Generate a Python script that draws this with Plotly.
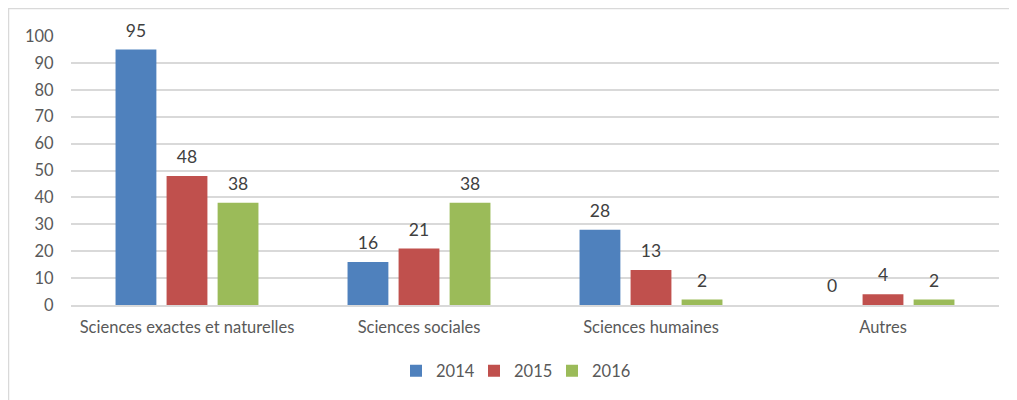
import plotly.graph_objects as go

categories = ["Sciences exactes et naturelles", "Sciences sociales", "Sciences humaines", "Autres"]
years = ["2014", "2015", "2016"]
values_2014 = [95, 16, 28, 0]
values_2015 = [48, 21, 13, 4]
values_2016 = [38, 38, 2, 2]
colors = ["#4F81BD", "#C0504D", "#9BBB59"]

FONT = "Lato"
TXT = "#595959"
FS = 16.5

series = [values_2014, values_2015, values_2016]

fig = go.Figure()
for name, vals, col in zip(years, series, colors):
    fig.add_trace(go.Bar(
        x=categories, y=vals, name=name, offsetgroup=name,
        marker=dict(color=col, line=dict(width=0)),
    ))
# value labels, placed over each bar through grouped scatter offsets
for name, vals in zip(years, series):
    fig.add_trace(go.Scatter(
        x=categories, y=vals, name=name, offsetgroup=name, showlegend=False,
        mode="markers+text", marker=dict(size=12, opacity=0),
        text=[str(v) for v in vals], textposition="top center",
        textfont=dict(size=17.5, color="#404040", family=FONT),
        cliponaxis=False, hoverinfo="skip",
    ))

# the page adds an 8 px body margin, so the figure is drawn 8 px in from the top-left
OFF = 8
W, H = 1017 - OFF, 400 - OFF
l, r, t, b = 71 - OFF, W - (999 - OFF), 36 - OFF, H - (305 - OFF)
pw, ph = W - l - r, H - t - b

def px(xs):
    return (xs - OFF - l) / pw

def py(ys):
    return 1 - (ys - OFF - t) / ph

fig.update_layout(
    width=W, height=H,
    margin=dict(l=l, r=r, t=t, b=b, autoexpand=False),
    paper_bgcolor="white", plot_bgcolor="white",
    barmode="group", bargap=0.34, bargroupgap=0.2,
    scattermode="group", scattergap=0.34,
    font=dict(family=FONT, size=FS, color=TXT),
    showlegend=True,
    legend=dict(orientation="h", x=px(396), xanchor="left", y=py(371), yanchor="middle",
                font=dict(size=FS, color=TXT), traceorder="normal",
                itemwidth=30, entrywidth=33, entrywidthmode="pixels"),
    xaxis=dict(showline=True, linecolor="#D9D9D9", linewidth=1.5, ticks="outside", ticklen=6,
               tickcolor="rgba(0,0,0,0)", automargin=False,
               tickfont=dict(size=FS, color=TXT)),
    yaxis=dict(range=[0, 100], dtick=10, showgrid=True, gridcolor="#D9D9D9", gridwidth=1.5,
               zeroline=False, ticks="outside", ticklen=13, tickcolor="rgba(0,0,0,0)",
               automargin=False, tickfont=dict(size=FS, color=TXT)),
    shapes=[dict(type="rect", xref="paper", yref="paper",
                 x0=px(8.5), x1=px(1030), y0=py(410), y1=py(8.5),
                 line=dict(color="#D9D9D9", width=1.5), fillcolor="rgba(0,0,0,0)", layer="below")],
)

fig.write_html("out.html")
